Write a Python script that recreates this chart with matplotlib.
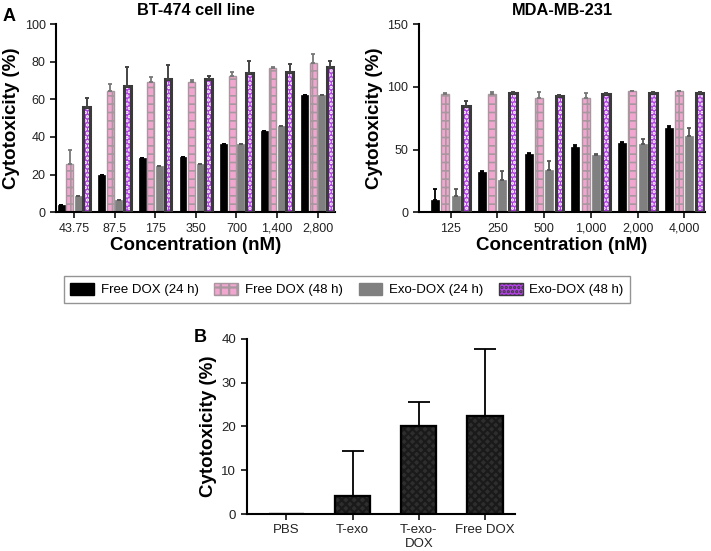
import matplotlib
matplotlib.use("Agg")
import matplotlib.pyplot as plt
import numpy as np
from matplotlib.patches import Patch

plt.rcParams['font.family'] = ['Liberation Sans', 'DejaVu Sans']

# ---- Data ----
bt_labels = ["43.75", "87.5", "175", "350", "700", "1,400", "2,800"]
bt_free24 = [4, 20, 29, 29.5, 36.5, 43, 62.5]
bt_free24_err = [0, 0, 0, 0, 0, 0, 0]
bt_free48 = [25.5, 64.5, 69, 69, 72.5, 76.5, 79.5]
bt_free48_err = [7.5, 3.5, 3, 1.5, 2, 0.5, 4.5]
bt_exo24 = [8.5, 6.5, 24.5, 25.5, 36.5, 46, 62.5]
bt_exo24_err = [0, 0, 0, 0, 0, 0, 0]
bt_exo48 = [56, 67, 71, 71, 74, 74.5, 77.5]
bt_exo48_err = [5, 10.5, 7.5, 1.5, 6.5, 4.5, 3]

mda_labels = ["125", "250", "500", "1,000", "2,000", "4,000"]
mda_free24 = [10, 32, 46.5, 52, 55.5, 67]
mda_free24_err = [8.5, 0.5, 0.5, 1.5, 0.5, 2]
mda_free48 = [94.5, 94, 91, 91, 96.5, 96.5]
mda_free48_err = [0.5, 2, 5, 4, 0.5, 0.5]
mda_exo24 = [12.5, 26, 33.5, 45.5, 54, 60.5]
mda_exo24_err = [6, 6.5, 7.5, 1, 4.5, 6.5]
mda_exo48 = [84.5, 95.5, 93, 94.5, 95.5, 95.5]
mda_exo48_err = [4.5, 0.5, 0.5, 0.5, 0.5, 0.5]

b_labels = ["PBS", "T-exo", "T-exo-\nDOX", "Free DOX"]
b_values = [0, 4.1, 20.1, 22.3]
b_err = [0, 10.4, 5.5, 15.4]

series_names = ["Free DOX (24 h)", "Free DOX (48 h)", "Exo-DOX (24 h)", "Exo-DOX (48 h)"]

BLACK = "#000000"
PINK = "#f0a6cf"
PINK_EDGE = "#a8979f"
GREY = "#808080"
PURPLE = "#b33fe6"
PURPLE_EDGE = "#3a3a3a"

fig = plt.figure(figsize=(7.11, 5.51), dpi=100)


def style_axes(ax, xsize=9, ysize=9):
    for s in ["top", "right"]:
        ax.spines[s].set_visible(False)
    for s in ["left", "bottom"]:
        ax.spines[s].set_linewidth(1.5)
    ax.tick_params(axis="both", width=1.3, length=4, colors="#222222")
    ax.tick_params(axis="x", labelsize=xsize)
    ax.tick_params(axis="y", labelsize=ysize)


def grouped(ax, labels, f24, f24e, f48, f48e, e24, e24e, e48, e48e, w, step):
    x = np.arange(len(labels))
    offs = [-1.5 * step, -0.5 * step, 0.5 * step, 1.5 * step]
    ekw_black = dict(ecolor="black", elinewidth=1.3, capsize=1.5, capthick=1.3)
    ax.bar(x + offs[0], f24, w, color=BLACK, edgecolor=BLACK, linewidth=0.5,
           yerr=[np.zeros(len(x)), f24e], error_kw=ekw_black, zorder=2)
    plt.rcParams['hatch.linewidth'] = 1.2
    ax.bar(x + offs[1], f48, w, color=PINK, edgecolor=PINK_EDGE, hatch="++",
           linewidth=1.0,
           yerr=[np.zeros(len(x)), f48e],
           error_kw=dict(ecolor="#777777", elinewidth=1.3, capsize=1.5, capthick=1.3), zorder=2)
    ax.bar(x + offs[2], e24, w, color=GREY, edgecolor=GREY, linewidth=0.5,
           yerr=[np.zeros(len(x)), e24e],
           error_kw=dict(ecolor="#555555", elinewidth=1.3, capsize=1.5, capthick=1.3), zorder=2)
    plt.rcParams['hatch.linewidth'] = 1.6
    ax.bar(x + offs[3], e48, w, color=PURPLE, edgecolor="white", hatch="....",
           linewidth=0, zorder=2)
    ax.bar(x + offs[3], e48, w, color="none", edgecolor=PURPLE_EDGE, linewidth=2.2,
           yerr=[np.zeros(len(x)), e48e],
           error_kw=dict(ecolor="#444444", elinewidth=1.4, capsize=1.5, capthick=1.4), zorder=3)
    ax.set_xticks(x)
    ax.set_xticklabels(labels)


LABEL_FS = 13.5
TITLE_FS = 11.8

# Left panel
ax1 = fig.add_axes([0.0788, 0.615, 0.392, 0.341])
grouped(ax1, bt_labels, bt_free24, bt_free24_err, bt_free48, bt_free48_err,
        bt_exo24, bt_exo24_err, bt_exo48, bt_exo48_err, w=0.17, step=0.21)
ax1.set_ylim(0, 100)
ax1.set_yticks([0, 20, 40, 60, 80, 100])
ax1.set_xlim(-0.44, 6.42)
style_axes(ax1)
ax1.set_ylabel("Cytotoxicity (%)", fontsize=LABEL_FS, fontweight="bold", labelpad=3)
ax1.set_xlabel("Concentration (nM)", fontsize=LABEL_FS, fontweight="bold", labelpad=2)
ax1.set_title("BT-474 cell line", fontsize=TITLE_FS, fontweight="bold", pad=7)

# Right panel
ax2 = fig.add_axes([0.589, 0.615, 0.403, 0.341])
grouped(ax2, mda_labels, mda_free24, mda_free24_err, mda_free48, mda_free48_err,
        mda_exo24, mda_exo24_err, mda_exo48, mda_exo48_err, w=0.17, step=0.22)
ax2.set_ylim(0, 150)
ax2.set_yticks([0, 50, 100, 150])
ax2.set_xlim(-0.68, 5.45)
style_axes(ax2)
ax2.set_ylabel("Cytotoxicity (%)", fontsize=LABEL_FS, fontweight="bold", labelpad=3)
ax2.set_xlabel("Concentration (nM)", fontsize=LABEL_FS, fontweight="bold", labelpad=2)
ax2.set_title("MDA-MB-231", fontsize=TITLE_FS, fontweight="bold", pad=7)

# Legend
plt.rcParams['hatch.linewidth'] = 1.2
h_pink = Patch(facecolor=PINK, edgecolor=PINK_EDGE, hatch="++")
plt.rcParams['hatch.linewidth'] = 1.6
handles = [
    Patch(facecolor=BLACK, edgecolor=BLACK),
    h_pink,
    Patch(facecolor=GREY, edgecolor=GREY),
    Patch(facecolor=PURPLE, edgecolor=PURPLE_EDGE, hatch="...."),
]
leg = fig.legend(handles, series_names, loc="center", bbox_to_anchor=(0.488, 0.4746),
                 ncol=4, fontsize=9.5, frameon=True, fancybox=False,
                 edgecolor="#7a7a7a", handlelength=1.8, handleheight=1.0,
                 columnspacing=1.2, handletextpad=0.5, borderpad=0.5)
leg.get_frame().set_linewidth(1.0)

# Panel B
ax3 = fig.add_axes([0.347, 0.067, 0.377, 0.318])
xb = np.arange(len(b_labels))
ax3.bar(xb, b_values, 0.53, color="#2e2e2e", edgecolor="#1a1a1a", hatch="xxxx",
        linewidth=1.5, zorder=2)
ax3.bar(xb, b_values, 0.53, color="none", edgecolor="black", linewidth=1.6, zorder=3)
ax3.errorbar(xb, b_values, yerr=[np.zeros(len(xb)), b_err], fmt="none",
             ecolor="black", elinewidth=1.3, capsize=8, capthick=1.3, zorder=1)
ax3.set_ylim(0, 40)
ax3.set_yticks([0, 10, 20, 30, 40])
ax3.set_xlim(-0.6, 3.45)
ax3.set_xticks(xb)
ax3.set_xticklabels(b_labels)
style_axes(ax3, xsize=9.5, ysize=9.5)
ax3.set_ylabel("Cytotoxicity (%)", fontsize=LABEL_FS, fontweight="bold", labelpad=3)

fig.text(0.003, 0.985, "A", fontsize=13, fontweight="bold", va="top", ha="left")
fig.text(0.272, 0.402, "B", fontsize=13, fontweight="bold", va="top", ha="left")

fig.savefig("out.png", dpi=100)
